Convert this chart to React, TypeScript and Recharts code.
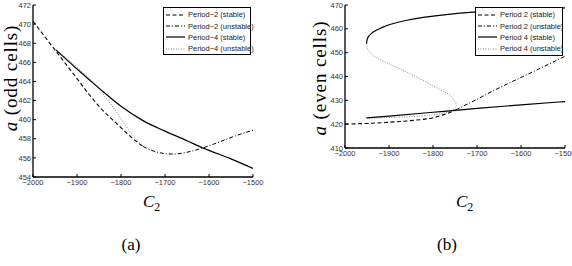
import React from 'react';
import { LineChart, Line, XAxis, YAxis, Legend } from 'recharts';

type Pt = { c: number; a: number };

// shared C2 axis
const c2Ticks = [-2000, -1900, -1800, -1700, -1600, -1500];
const oddTicks = [454, 456, 458, 460, 462, 464, 466, 468, 470, 472];
const evenTicks = [410, 420, 430, 440, 450, 460, 470];

// (a) odd cells
const oddP2Stable: Pt[] = [
  { c: -2000, a: 470.3 }, { c: -1950, a: 467.3 }, { c: -1900, a: 464.3 }, { c: -1870, a: 462.5 },
  { c: -1840, a: 460.9 }, { c: -1810, a: 459.6 }, { c: -1780, a: 458.3 }, { c: -1750, a: 457.2 },
];
const oddP2Unstable: Pt[] = [
  { c: -1750, a: 457.2 }, { c: -1725, a: 456.7 }, { c: -1700, a: 456.45 }, { c: -1680, a: 456.4 },
  { c: -1660, a: 456.5 }, { c: -1640, a: 456.7 }, { c: -1617, a: 457.0 }, { c: -1580, a: 457.6 },
  { c: -1540, a: 458.3 }, { c: -1500, a: 458.9 },
];
const oddP4Stable: Pt[] = [
  { c: -1948, a: 467.3 }, { c: -1900, a: 465.3 }, { c: -1850, a: 463.3 }, { c: -1800, a: 461.4 },
  { c: -1750, a: 459.9 }, { c: -1700, a: 458.8 }, { c: -1650, a: 457.8 }, { c: -1617, a: 457.1 },
  { c: -1550, a: 455.9 }, { c: -1500, a: 454.9 },
];
const oddP4Unstable: Pt[] = [
  { c: -1948, a: 467.3 }, { c: -1900, a: 465.5 }, { c: -1870, a: 464.2 }, { c: -1850, a: 463.2 },
  { c: -1833, a: 462.2 }, { c: -1810, a: 460.8 }, { c: -1795, a: 459.7 }, { c: -1775, a: 458.5 },
  { c: -1750, a: 457.2 },
];

// (b) even cells
const evenP2Stable: Pt[] = [
  { c: -2000, a: 420.0 }, { c: -1950, a: 420.3 }, { c: -1900, a: 420.8 }, { c: -1850, a: 421.5 },
  { c: -1800, a: 422.7 }, { c: -1775, a: 424.0 }, { c: -1748, a: 426.0 },
];
const evenP2Unstable: Pt[] = [
  { c: -1748, a: 426.0 }, { c: -1720, a: 428.6 }, { c: -1700, a: 430.4 }, { c: -1680, a: 432.4 },
  { c: -1650, a: 435.2 }, { c: -1600, a: 439.6 }, { c: -1550, a: 444.0 }, { c: -1500, a: 448.5 },
];
const evenP4StableUpper: Pt[] = [
  { c: -1951, a: 453.8 }, { c: -1950.2, a: 455.1 }, { c: -1947.5, a: 456.5 }, { c: -1941, a: 457.9 },
  { c: -1930, a: 459.3 }, { c: -1915, a: 460.6 }, { c: -1898, a: 461.8 }, { c: -1860, a: 463.6 },
  { c: -1822, a: 464.8 }, { c: -1770, a: 466.0 }, { c: -1708, a: 467.0 }, { c: -1650, a: 467.6 },
  { c: -1600, a: 468.1 }, { c: -1550, a: 468.5 }, { c: -1500, a: 468.8 },
];
const evenP4StableLower: Pt[] = [
  { c: -1951, a: 422.6 }, { c: -1900, a: 423.4 }, { c: -1800, a: 425.0 }, { c: -1750, a: 425.8 },
  { c: -1700, a: 426.6 }, { c: -1600, a: 428.1 }, { c: -1500, a: 429.5 },
];
const evenP4Unstable: Pt[] = [
  { c: -1951, a: 453.8 }, { c: -1950.2, a: 452.5 }, { c: -1947.5, a: 451.1 }, { c: -1941, a: 449.5 },
  { c: -1925, a: 447.5 }, { c: -1898, a: 445.1 }, { c: -1870, a: 442.7 }, { c: -1845, a: 440.5 },
  { c: -1815, a: 437.6 }, { c: -1784, a: 434.5 }, { c: -1770, a: 433.2 }, { c: -1758, a: 431.5 },
  { c: -1750, a: 429.5 }, { c: -1747, a: 427.8 }, { c: -1750, a: 426.6 }, { c: -1760, a: 425.5 },
  { c: -1784, a: 424.3 }, { c: -1837, a: 423.3 }, { c: -1900, a: 422.8 }, { c: -1951, a: 422.5 },
];

const oddLegend = ['Period\u22122 (stable)', 'Period\u22122 (unstable)', 'Period\u22124 (stable)', 'Period\u22124 (unstable)'];
const evenLegend = ['Period 2 (stable)', 'Period 2 (unstable)', 'Period 4 (stable)', 'Period 4 (unstable)'];

type Kind = 'p2s' | 'p2u' | 'p4s' | 'p4u';

const lineStyles: Record<Kind, { stroke: string; strokeWidth: number; strokeDasharray?: string }> = {
  p2s: { stroke: '#000', strokeWidth: 1.1, strokeDasharray: '4 2.5' },
  p2u: { stroke: '#000', strokeWidth: 1, strokeDasharray: '4 2 1 2' },
  p4s: { stroke: '#000', strokeWidth: 1.2 },
  p4u: { stroke: '#8a8a8a', strokeWidth: 1, strokeDasharray: '1 1.5' },
};
const legendKinds: Kind[] = ['p2s', 'p2u', 'p4s', 'p4u'];

const sans = '"Liberation Sans", Arial, sans-serif';
const serif = '"Liberation Serif", "Times New Roman", serif';
const tickStyle = { fontSize: 7.5, fill: '#333', fontFamily: sans };
const fmt = (v: number) => String(v).replace('-', '\u2212');

const LegendBox = ({ labels, w, h }: { labels: string[]; w: number; h: number }) => (
  <div
    style={{
      width: w, height: h, boxSizing: 'border-box', background: '#fff', border: '1.3px solid #000',
      paddingTop: 1, fontFamily: sans, fontSize: 7.5, color: '#222',
    }}
  >
    {labels.map((label, i) => {
      const s = lineStyles[legendKinds[i]];
      return (
        <div key={label} style={{ display: 'flex', alignItems: 'center', height: 11.4, whiteSpace: 'nowrap' }}>
          <svg width={23} height={4} style={{ flex: 'none' }}>
            <line x1={2} y1={2} x2={21} y2={2} {...s} />
          </svg>
          <span style={{ marginLeft: 1 }}>{label}</span>
        </div>
      );
    })}
  </div>
);

type Series = { kind: Kind; data: Pt[]; curve: 'monotone' | 'natural' };

type PanelProps = {
  left: number;
  series: Series[];
  yDomain: [number, number];
  yTicks: number[];
  margin: { top: number; right: number; bottom: number; left: number };
  legendLabels: string[];
  legendPos: { left: number; top: number; w: number; h: number };
  yTitle: string;
  yTitlePos: [number, number];
  c2X: number;
  caption: string;
  captionX: number;
};

const Panel = (p: PanelProps) => (
  <div style={{ position: 'absolute', left: p.left, top: 0 }}>
    <LineChart width={286} height={266} margin={p.margin}>
      <XAxis
        type="number" dataKey="c" domain={[-2000, -1500]} ticks={c2Ticks} allowDataOverflow
        height={30} tickSize={-3} tickMargin={6} tick={tickStyle} tickFormatter={fmt}
        axisLine={{ stroke: '#000', strokeWidth: 1.3 }} tickLine={{ stroke: '#000' }} interval={0}
      />
      <XAxis
        xAxisId="top" orientation="top" type="number" dataKey="c" domain={[-2000, -1500]} ticks={c2Ticks}
        height={0} tickSize={-3} tick={false} axisLine={{ stroke: '#000', strokeWidth: 1.3 }} tickLine={{ stroke: '#000' }}
      />
      <YAxis
        type="number" dataKey="a" domain={p.yDomain} ticks={p.yTicks} allowDataOverflow
        width={28} tickSize={-3} tickMargin={5} tick={tickStyle} tickFormatter={fmt}
        axisLine={{ stroke: '#000', strokeWidth: 1.3 }} tickLine={{ stroke: '#000' }} interval={0}
      />
      <YAxis
        yAxisId="right" orientation="right" type="number" dataKey="a" domain={p.yDomain} ticks={p.yTicks}
        width={0} tickSize={-3} tick={false} axisLine={{ stroke: '#000', strokeWidth: 1.3 }} tickLine={{ stroke: '#000' }}
      />
      {p.series.map((s, i) => (
        <Line
          key={i} data={s.data} dataKey="a" type={s.curve} dot={false} activeDot={false}
          isAnimationActive={false} legendType="none" {...lineStyles[s.kind]}
        />
      ))}
      <Legend
        layout="vertical" align="center" verticalAlign="middle"
        wrapperStyle={{ left: p.legendPos.left, top: p.legendPos.top, width: p.legendPos.w, height: p.legendPos.h }}
        content={() => <LegendBox labels={p.legendLabels} w={p.legendPos.w} h={p.legendPos.h} />}
      />
      <text
        x={p.yTitlePos[0]} y={p.yTitlePos[1]} textAnchor="middle" dominantBaseline="central"
        transform={`rotate(-90 ${p.yTitlePos[0]} ${p.yTitlePos[1]})`}
        style={{ fontFamily: serif, fontSize: 19, letterSpacing: 0.9 }} fill="#000"
      >
        <tspan fontStyle="italic">a</tspan>
        <tspan> {p.yTitle}</tspan>
      </text>
      <text x={p.c2X} y={207} style={{ fontFamily: serif, fontSize: 17 }} fill="#000">
        <tspan fontStyle="italic">C</tspan>
        <tspan fontSize={12} dy={4}>2</tspan>
      </text>
      <text x={p.captionX} y={250} textAnchor="middle" style={{ fontFamily: serif, fontSize: 17 }} fill="#000">
        {p.caption}
      </text>
    </LineChart>
  </div>
);

export default function App() {
  return (
    <div style={{ position: 'absolute', left: 0, top: 0, width: 572, height: 266, background: '#fff', overflow: 'hidden' }}>
      <Panel
        left={0}
        series={[
          { kind: 'p2s', data: oddP2Stable, curve: 'monotone' },
          { kind: 'p2u', data: oddP2Unstable, curve: 'monotone' },
          { kind: 'p4u', data: oddP4Unstable, curve: 'monotone' },
          { kind: 'p4s', data: oddP4Stable, curve: 'monotone' },
        ]}
        yDomain={[454, 472]}
        yTicks={oddTicks}
        margin={{ top: 5, right: 33, bottom: 59, left: 5 }}
        legendLabels={oddLegend}
        legendPos={{ left: 163, top: 7, w: 88, h: 48 }}
        yTitle="(odd cells)"
        yTitlePos={[10, 78]}
        c2X={143}
        caption="(a)"
        captionX={131}
      />
      <Panel
        left={286}
        series={[
          { kind: 'p2s', data: evenP2Stable, curve: 'monotone' },
          { kind: 'p2u', data: evenP2Unstable, curve: 'monotone' },
          { kind: 'p4u', data: evenP4Unstable, curve: 'natural' },
          { kind: 'p4s', data: evenP4StableUpper, curve: 'natural' },
          { kind: 'p4s', data: evenP4StableLower, curve: 'monotone' },
        ]}
        yDomain={[410, 470]}
        yTicks={evenTicks}
        margin={{ top: 5, right: 7, bottom: 88, left: 31 }}
        legendLabels={evenLegend}
        legendPos={{ left: 189, top: 7, w: 88, h: 49 }}
        yTitle="(even cells)"
        yTitlePos={[33, 78]}
        c2X={170}
        caption="(b)"
        captionX={161}
      />
    </div>
  );
}
